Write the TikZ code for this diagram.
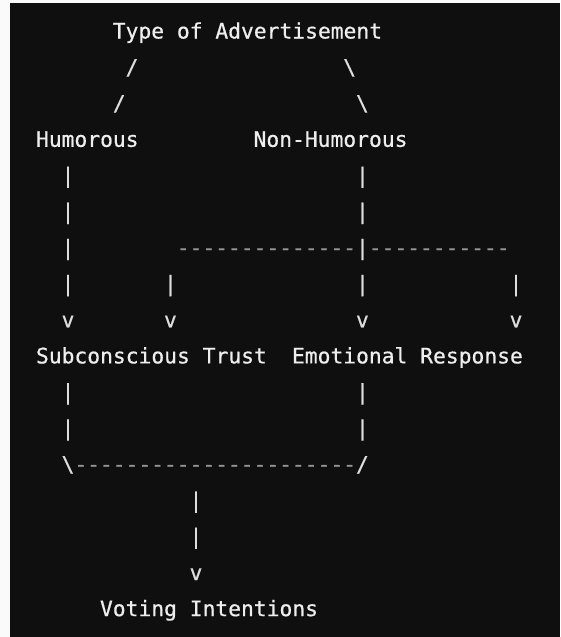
\documentclass[tikz,border=0pt]{standalone}
\usepackage{fontspec}
\newfontfamily\asciifont[FakeBold=0.6]{DejaVu Sans Mono}
\usetikzlibrary{positioning}

\definecolor{screen}{RGB}{15,15,15}
\definecolor{paper}{RGB}{250,250,250}
\definecolor{textwhite}{RGB}{238,238,238}
\definecolor{barwhite}{RGB}{222,222,222}
\definecolor{dashgrey}{RGB}{150,150,150}

\tikzset{
    cell/.style={anchor=base west, inner sep=0pt, outer sep=0pt,
        font=\asciifont\fontsize{21.3}{25}\selectfont},
    word/.style={cell, text=textwhite},
    bar/.style={cell, text=barwhite},
    dashbit/.style={cell, text=dashgrey},
}

\begin{document}
\begin{tikzpicture}[x=1pt,y=1pt]
% screen
\fill[paper] (0,0) rectangle (560,-637);
\fill[screen] (10,-3) rectangle (560,-637);
\useasboundingbox (0,0) rectangle (560,-637);

% one unit = one character cell
\begin{scope}[shift={(36pt,-38.5pt)}, x=12.8pt, y=-36.1pt]
    % labels
    \node[word] (type) at (6,0) {Type of Advertisement};
    \node[word] (humorous) at (0,3) {Humorous};
    \node[word] (nonhumorous) at (17,3) {Non-Humorous};
    \node[word] (trust) at (0,9) {Subconscious Trust};
    \node[word] (emotion) at (20,9) {Emotional Response};
    \node[word] (voting) at (5,16) {Voting Intentions};

    % branches under the title
    \node[bar] (forkl1) at (7,1) {/};
    \node[bar] (forkl2) at (6,2) {/};
    \node[bar] (forkr1) at (24,1) {\textbackslash};
    \node[bar] (forkr2) at (25,2) {\textbackslash};

    % vertical bars
    \foreach \c/\r [count=\i] in {2/4,2/5,2/6,2/7,2/10,2/11,
        25/4,25/5,25/6,25/7,25/10,25/11,10/7,37/7,12/13,12/14}
        \node[bar] (bar\i) at (\c,\r) {|};

    % arrow heads
    \foreach \c [count=\i] in {2,10,25,37}
        \node[bar] (tip\i) at (\c,8) {v};
    \node[bar] (tip5) at (12,15) {v};

    % split line
    \foreach \c in {11,...,24}
        \node[dashbit] (splitl\c) at (\c,6) {-};
    \foreach \c in {26,...,36}
        \node[dashbit] (splitr\c) at (\c,6) {-};

    % join line
    \node[bar] (joinl) at (2,12) {\textbackslash};
    \foreach \c in {3,...,24}
        \node[dashbit] (join\c) at (\c,12) {-};
    \node[bar] (joinr) at (25,12) {/};
\end{scope}
\end{tikzpicture}
\end{document}
